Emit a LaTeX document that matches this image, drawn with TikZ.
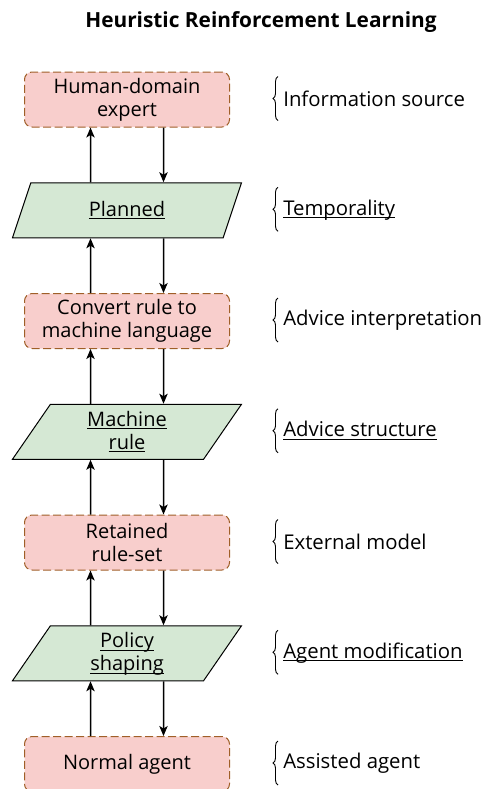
\documentclass[tikz,border=0pt]{standalone}
\usepackage{fontspec}
\setmainfont{Open Sans}
\usepackage{tikz}
\usetikzlibrary{positioning,shapes.geometric,arrows.meta,decorations.pathreplacing}
\definecolor{boxfill}{HTML}{F8CECC}
\definecolor{boxline}{RGB}{160,95,40}
\definecolor{parafill}{HTML}{D5E8D4}
\newcommand{\ul}[1]{\underline{\raisebox{0pt}[\height][0pt]{#1}}}

\tikzset{
  stage/.style={draw=boxline, fill=boxfill, dash pattern=on 4.8pt off 2.1pt,
    line width=0.6pt, rounded corners=4.5pt, minimum width=123pt,
    minimum height=33pt, align=center, inner sep=1pt,
    font=\fontsize{12}{14}\selectfont},
  choice/.style={draw, fill=parafill, line width=0.6pt, trapezium,
    trapezium left angle=50, trapezium right angle=130,
    trapezium stretches body, minimum width=137.4pt, minimum height=33pt,
    align=center, inner sep=1pt, font=\fontsize{12}{14}\selectfont},
  facet/.style={anchor=west, inner xsep=3pt, inner ysep=0pt,
    minimum height=26pt, font=\fontsize{12.2}{14}\selectfont},
  bracket/.style={decorate, decoration={brace, amplitude=3pt}, line width=0.55pt},
  flow/.style={-{Stealth[length=6pt,width=5pt,inset=1.5pt]}, line width=0.9pt}
}

\begin{document}
\begin{tikzpicture}[x=0.6pt, y=-0.6pt]
\useasboundingbox (0,0) rectangle (487,789);
\node[font=\fontsize{12.5}{15}\selectfont\bfseries] (title) at (261,22)
  {Heuristic Reinforcement Learning};
% left column
\node[stage] (expert) at (127,99.5) {Human-domain\\expert};
\node[choice] (planned) at (127,210.25) {\ul{Planned}};
\node[stage] (convert) at (127,321) {Convert rule to\\machine language};
\node[choice] (rule) at (127,431.75) {\ul{Machine}\\\ul{rule}};
\node[stage] (ruleset) at (127,542.5) {Retained\\rule-set};
\node[choice] (shaping) at (127,653.25) {\ul{Policy}\\\ul{shaping}};
\node[stage] (agent) at (127,764) {Normal agent};
% right column
\node[facet] (source) at (278,98.5) {Information source};
\node[facet] (time) at (278,209.25) {\ul{Temporality}};
\node[facet] (interp) at (278,320) {Advice interpretation};
\node[facet] (struct) at (278,430.75) {\ul{Advice structure}};
\node[facet] (model) at (278,541.5) {External model};
\node[facet] (modif) at (278,652.25) {\ul{Agent modification}};
\node[facet] (assist) at (278,763) {Assisted agent};
\foreach \n in {source,time,interp,struct,model,modif,assist}
  \draw[bracket] (\n.south west) -- (\n.north west);
% arrows
\foreach \a/\b in {expert/planned,planned/convert,convert/rule,rule/ruleset,
  ruleset/shaping,shaping/agent} {
  \draw[flow] ([xshift=-21.9pt]\b.north) -- ([xshift=-21.9pt]\a.south);
  \draw[flow] ([xshift=21.9pt]\a.south) -- ([xshift=21.9pt]\b.north);
}
\end{tikzpicture}
\end{document}
